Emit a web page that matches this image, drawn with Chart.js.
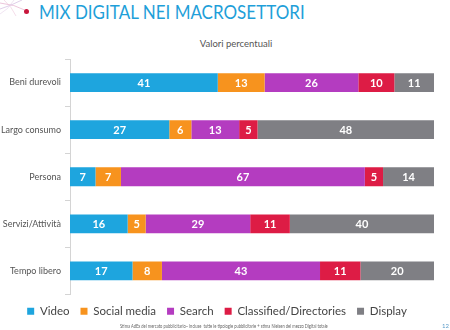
<!DOCTYPE html>
<html>
<head>
<meta charset="utf-8">
<script src="https://cdn.jsdelivr.net/npm/chart.js@4.4.1/dist/chart.umd.min.js"></script>
<style>
  html, body { margin: 0; padding: 0; background: #fff; }
  body { width: 450px; height: 330px; position: relative; overflow: hidden; font-family: Lato, "Open Sans", sans-serif; }
  #wrap { position: absolute; left: 0; top: 0; width: 450px; height: 330px; }
  #title { position: absolute; left: 39px; top: -1px; font-size: 20px; color: #1f9fd9; white-space: nowrap; line-height: 24px; transform: scaleX(0.85); transform-origin: 0 0; }
  #dot { position: absolute; left: 24px; top: 9px; width: 5px; height: 5px; border-radius: 50%; background: #c8163c; }
  #sub { position: absolute; left: 0; width: 472px; text-align: center; top: 38px; font-size: 9.5px; color: #555; }
  #foot { position: absolute; left: 120px; top: 323px; font-size: 6px; color: #666; white-space: nowrap; transform: scale(0.68, 0.9); transform-origin: 0 0; }
  #page { position: absolute; left: 442px; top: 322px; font-size: 6px; color: #5a9bc8; }
  svg { position: absolute; left: 0; top: 0; }
</style>
</head>
<body>
<svg width="60" height="30">
  <path d="M0 3 Q 14 4 27 11" stroke="#e7b7d2" stroke-width="0.8" fill="none"/>
  <path d="M0 9 Q 10 6 22 0" stroke="#d8c3e3" stroke-width="0.8" fill="none"/>
  <path d="M4 0 Q 12 7 16 16" stroke="#ecc6da" stroke-width="0.6" fill="none"/>
  <path d="M0 14 Q 8 10 14 0" stroke="#e5d2ea" stroke-width="0.6" fill="none"/>
</svg>
<div id="dot"></div>
<div id="title">MIX DIGITAL NEI MACROSETTORI</div>
<div id="sub">Valori percentuali</div>
<div id="wrap"><canvas id="c" width="450" height="330"></canvas></div>
<div id="foot">Stima AdEx del mercato pubblicitario– incluse &nbsp;tutte le tipologie pubblicitarie + stima Nielsen del mezzo Digital totale</div>
<div id="page">12</div>
<script>
const categories = ["Beni durevoli", "Largo consumo", "Persona", "Servizi/Attività", "Tempo libero"];
const seriesNames = ["Video", "Social media", "Search", "Classified/Directories", "Display"];
const video = [41, 27, 7, 16, 17];
const socialMedia = [13, 6, 7, 5, 8];
const search = [26, 13, 67, 29, 43];
const classified = [10, 5, 5, 11, 11];
const display = [11, 48, 14, 40, 20];
const colors = ["#1ea5de", "#f7931e", "#b43cc0", "#dd1c45", "#7f7f84"];

const raw = [video, socialMedia, search, classified, display];
const totals = categories.map((_, i) => raw.reduce((s, a) => s + a[i], 0));

const datasets = raw.map((arr, k) => ({
  label: seriesNames[k],
  data: arr.map((v, i) => v / totals[i] * 100),
  rawValues: arr,
  backgroundColor: colors[k],
  borderWidth: 0,
  barPercentage: 0.8,
  categoryPercentage: 0.5
}));

const labelPlugin = {
  id: 'barLabels',
  afterDatasetsDraw(chart) {
    const ctx = chart.ctx;
    ctx.save();
    ctx.font = 'bold 11px Lato, "Open Sans", sans-serif';
    ctx.fillStyle = '#ffffff';
    ctx.textAlign = 'center';
    ctx.textBaseline = 'middle';
    chart.data.datasets.forEach((ds, di) => {
      const meta = chart.getDatasetMeta(di);
      meta.data.forEach((bar, i) => {
        const cx = (bar.x + bar.base) / 2;
        ctx.fillText(String(ds.rawValues[i]), cx, bar.y + 0.5);
      });
    });
    ctx.restore();
  }
};

new Chart(document.getElementById('c'), {
  type: 'bar',
  data: { labels: categories, datasets },
  plugins: [labelPlugin],
  options: {
    indexAxis: 'y',
    responsive: false,
    animation: false,
    layout: { padding: { top: 59, right: 16, bottom: 3, left: 0 } },
    scales: {
      x: { stacked: true, min: 0, max: 100, display: false },
      y: {
        stacked: true,
        afterFit(scale) { scale.width = 70; },
        grid: { drawOnChartArea: false, drawTicks: true, tickLength: 5, color: '#d4d4d4', offset: true },
        border: { display: true, color: '#d4d4d4' },
        ticks: { color: '#555', padding: 4, font: { family: 'Lato, "Open Sans", sans-serif', size: 9 } }
      }
    },
    plugins: {
      legend: {
        position: 'bottom',
        labels: {
          boxWidth: 7, boxHeight: 7, padding: 11, color: '#444',
          font: { family: 'Lato, "Open Sans", sans-serif', size: 11.5 }
        }
      },
      tooltip: { enabled: false }
    }
  }
});
</script>
</body>
</html>
